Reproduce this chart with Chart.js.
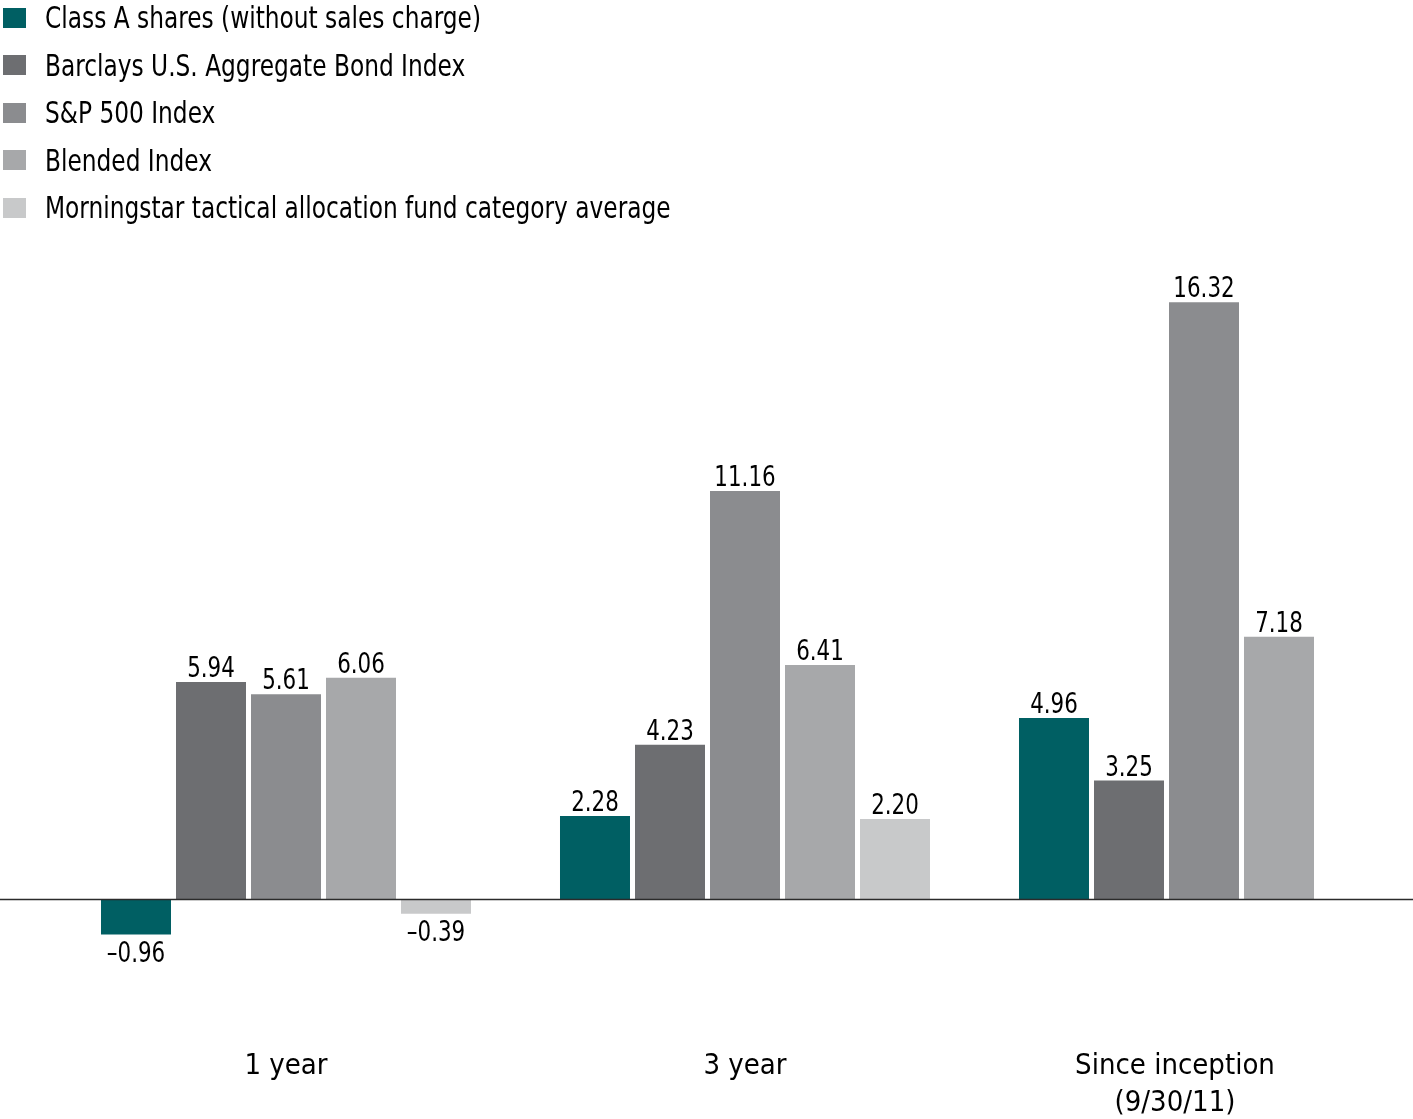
<!DOCTYPE html>
<html>
<head>
<meta charset="utf-8">
<script src="https://cdn.jsdelivr.net/npm/chart.js@4.4.1/dist/chart.umd.min.js"></script>
<style>
  html, body { margin: 0; padding: 0; background: #fff; }
  body { width: 1413px; height: 1119px; position: relative; overflow: hidden;
         font-family: "DejaVu Sans Condensed", "DejaVu Sans", sans-serif; }
  #chart { position: absolute; left: 0; top: 0; }
  #legend { position: absolute; left: 3px; top: -6px; margin: 0; padding: 0; list-style: none; z-index: 2; }
  #legend li { height: 47.5px; display: flex; align-items: center; font-size: 30px; color: #000; white-space: nowrap; }
  #legend span.box { width: 23px; height: 20px; margin-right: 19px; flex: none; }
  #legend span.txt { display: inline-block; transform: scaleX(0.863); transform-origin: left center; }
</style>
</head>
<body>
<ul id="legend"></ul>
<canvas id="chart" width="1440" height="1135"></canvas>
<script>
// trailing spaces keep the last label centred on its four bars like the original
const categories = ["1 year", "3 year", ["Since inception       ", "(9/30/11)       "]];

const seriesNames = [
    "Class A shares (without sales charge)",
    "Barclays U.S. Aggregate Bond Index",
    "S&P 500 Index",
    "Blended Index",
    "Morningstar tactical allocation fund category average"
];

const classA = [-0.96, 2.28, 4.96];
const barclays = [5.94, 4.23, 3.25];
const sp500 = [5.61, 11.16, 16.32];
const blended = [6.06, 6.41, 7.18];
const morningstar = [-0.39, 2.20, null];

const colors = ["#005f63", "#6d6e71", "#8b8c8f", "#a7a8aa", "#c8c9ca"];

const FONT = '"DejaVu Sans Condensed", "DejaVu Sans", sans-serif';

function fmt(v) {
    const s = Math.abs(v).toFixed(2);
    return v < 0 ? "\u2013" + s : s;
}

// legend as html list
const legendEl = document.getElementById("legend");
seriesNames.forEach((name, i) => {
    const li = document.createElement("li");
    li.innerHTML = `<span class="box" style="background:${colors[i]}"></span><span class="txt">${name}</span>`;
    legendEl.appendChild(li);
});

// zero line across the whole width
const zeroLine = {
    id: "zeroLine",
    afterDatasetsDraw(chart) {
        const y = chart.scales.y.getPixelForValue(0);
        const ctx = chart.ctx;
        ctx.save();
        ctx.strokeStyle = "#2b2b2b";
        ctx.lineWidth = 1.5;
        ctx.beginPath();
        ctx.moveTo(0, y);
        ctx.lineTo(chart.width, y);
        ctx.stroke();
        ctx.restore();
    }
};

// value labels over / under each bar
const valueLabels = {
    id: "valueLabels",
    afterDatasetsDraw(chart) {
        const ctx = chart.ctx;
        chart.data.datasets.forEach((ds, i) => {
            chart.getDatasetMeta(i).data.forEach((bar, j) => {
                const v = ds.data[j];
                if (v === null || v === undefined) return;
                const ty = v >= 0 ? bar.y - 5 : bar.y + 27;
                ctx.save();
                ctx.font = "28px " + FONT;
                ctx.fillStyle = "#000";
                ctx.textAlign = "center";
                ctx.textBaseline = "alphabetic";
                ctx.translate(bar.x, ty);
                ctx.scale(0.85, 1);
                ctx.fillText(fmt(v), 0, 0);
                ctx.restore();
            });
        });
    }
};

const allSeries = [classA, barclays, sp500, blended, morningstar];

new Chart(document.getElementById("chart"), {
    type: "bar",
    data: {
        labels: categories,
        datasets: allSeries.map((d, i) => ({
            label: seriesNames[i],
            data: d,
            backgroundColor: colors[i],
            borderWidth: 0,
            categoryPercentage: 0.817,
            barPercentage: 0.9333
        }))
    },
    options: {
        responsive: false,
        animation: false,
        layout: {
            padding: { top: 240.7, left: 56.5, right: 6.5, bottom: 4.2 }
        },
        plugins: {
            legend: { display: false },
            tooltip: { enabled: false }
        },
        scales: {
            x: {
                grid: { display: false, drawTicks: false },
                border: { display: false },
                ticks: {
                    color: "#000",
                    padding: 9,
                    maxRotation: 0,
                    font: { family: FONT, size: 29, lineHeight: 1.28 }
                }
            },
            y: {
                display: false,
                min: -3.8,
                max: 18
            }
        }
    },
    plugins: [zeroLine, valueLabels]
});
</script>
</body>
</html>
